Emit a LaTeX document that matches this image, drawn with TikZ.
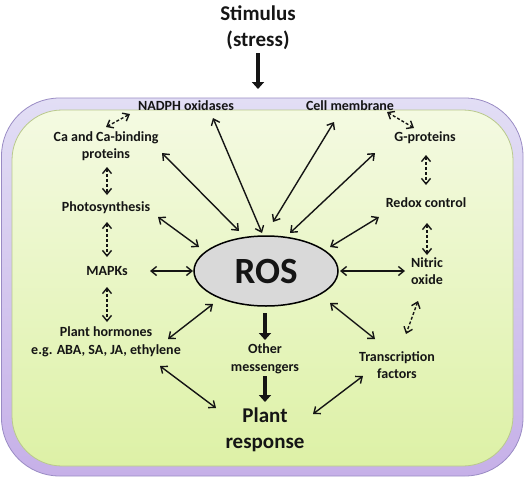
\documentclass[tikz,border=0pt]{standalone}
\usepackage{fontspec}
\setmainfont{Carlito}
\usetikzlibrary{arrows.meta,calc,shapes.geometric}
\definecolor{txt}{HTML}{151515}
\definecolor{outtop}{HTML}{E2DEF5}
\definecolor{outbot}{HTML}{C6B0E8}
\definecolor{outline}{HTML}{9A8CC4}
\definecolor{intop}{HTML}{F4FAE2}
\definecolor{inbot}{HTML}{DDF1A6}
\definecolor{inline}{HTML}{B9C98C}
\definecolor{rosfill}{HTML}{D9D9D9}
\tikzset{
  lbl/.style={font=\bfseries\fontsize{14}{17.5}\selectfont, text=txt, align=center, inner sep=1pt},
  big/.style={font=\bfseries\fontsize{21}{26}\selectfont, text=txt, align=center, inner sep=1pt},
  bi/.style={{Straight Barb[length=5.5pt,width=9pt]}-{Straight Barb[length=5.5pt,width=9pt]}, line width=1.4pt, draw=txt},
  dbi/.style={bi, dash pattern=on 3pt off 2pt},
  thick arrow/.style={-{Triangle[length=7pt,width=12pt]}, line width=3.8pt, draw=txt}
}
\begin{document}
\begin{tikzpicture}[x=1pt,y=-1pt]
\useasboundingbox (0,0) rectangle (528,490);
% cell boxes
\shade[top color=outtop, bottom color=outbot, draw=outline, line width=0.8pt, rounded corners=58pt]
  (1.5,98) rectangle (523,476);
\shade[top color=intop, bottom color=inbot, draw=inline, line width=0.8pt, rounded corners=50pt]
  (12,110) rectangle (513,466);
% nodes
\node[big] (stim) at (258,28) {Stimulus\\(stress)};
\coordinate (entry) at (258,89);
\node[lbl] (nadph) at (186,106) {NADPH oxidases};
\node[lbl] (cellm) at (350,106) {Cell membrane};
\node[lbl] (ca) at (106,146) {Ca and Ca-binding\\proteins};
\node[lbl] (photo) at (106,208) {Photosynthesis};
\node[lbl] (mapk) at (107,271) {MAPKs};
\node[lbl] (horm) at (106,342) {Plant hormones\\e.g. ABA, SA, JA, ethylene};
\node[lbl] (other) at (265,359) {Other\\messengers};
\node[big] (plant) at (265,430) {Plant\\response};
\node[lbl] (trans) at (397,365) {Transcription\\factors};
\node[lbl] (gprot) at (425,138) {G-proteins};
\node[lbl] (redox) at (426,203) {Redox control};
\node[lbl] (nitric) at (427,271) {Nitric\\oxide};
\node[ellipse, draw=black, line width=1.5pt, fill=rosfill, minimum width=144pt, minimum height=70pt, inner sep=0pt,
  font=\bfseries\fontsize{37}{40}\selectfont, text=txt] (ros) at (266,271) {ROS};
% thick arrows
\draw[thick arrow] ($(stim.south)+(0,2)$) -- (entry);
\draw[thick arrow] ($(ros)+(-1,42)$) -- ($(other)+(0,-19)$);
\draw[thick arrow] ($(other)+(0,17)$) -- ($(plant)+(0,-28)$);
% solid double arrows
\draw[bi] ($(nadph)+(27,12)$) -- ($(ros)+(-4,-38)$);
\draw[bi] ($(cellm)+(-16,16)$) -- ($(ros)+(7,-49)$);
\draw[bi] ($(ca)+(56,7)$) -- ($(ros)+(-27,-40)$);
\draw[bi] ($(photo)+(52,9)$) -- ($(ros)+(-67,-24)$);
\draw[bi] ($(mapk)+(43,0)$) -- ($(ros)+(-73,0)$);
\draw[bi] ($(gprot)+(-50,15)$) -- ($(ros)+(24,-38)$);
\draw[bi] ($(redox)+(-47,14)$) -- ($(ros)+(64,-24)$);
\draw[bi] ($(nitric)+(-22,0)$) -- ($(ros)+(74,0)$);
\draw[bi] ($(horm)+(62,-3)$) -- ($(ros)+(-53,33)$);
\draw[bi] ($(trans)+(-22,-26)$) -- ($(ros)+(64,32)$);
\draw[bi] ($(horm)+(54,24)$) -- ($(plant)+(-49,-22)$);
\draw[bi] ($(trans)+(-34,11)$) -- ($(plant)+(48,-16)$);
% dashed double arrows
\draw[dbi] ($(ca)+(0,-19)$) -- ($(nadph)+(-56,8)$);
\draw[dbi] ($(ca)+(1,21)$) -- ($(photo)+(1,-13)$);
\draw[dbi] ($(photo)+(1,14)$) -- ($(mapk)+(0,-14)$);
\draw[dbi] ($(mapk)+(0,16)$) -- ($(horm)+(1,-20)$);
\draw[dbi] ($(cellm)+(37,6)$) -- ($(gprot)+(-11,-10)$);
\draw[dbi] ($(gprot)+(1,17)$) -- ($(redox)+(0,-18)$);
\draw[dbi] ($(redox)+(1,20)$) -- ($(nitric)+(0,-16)$);
\draw[dbi] ($(nitric)+(-9,30)$) -- ($(trans)+(9,-31)$);
\end{tikzpicture}
\end{document}
